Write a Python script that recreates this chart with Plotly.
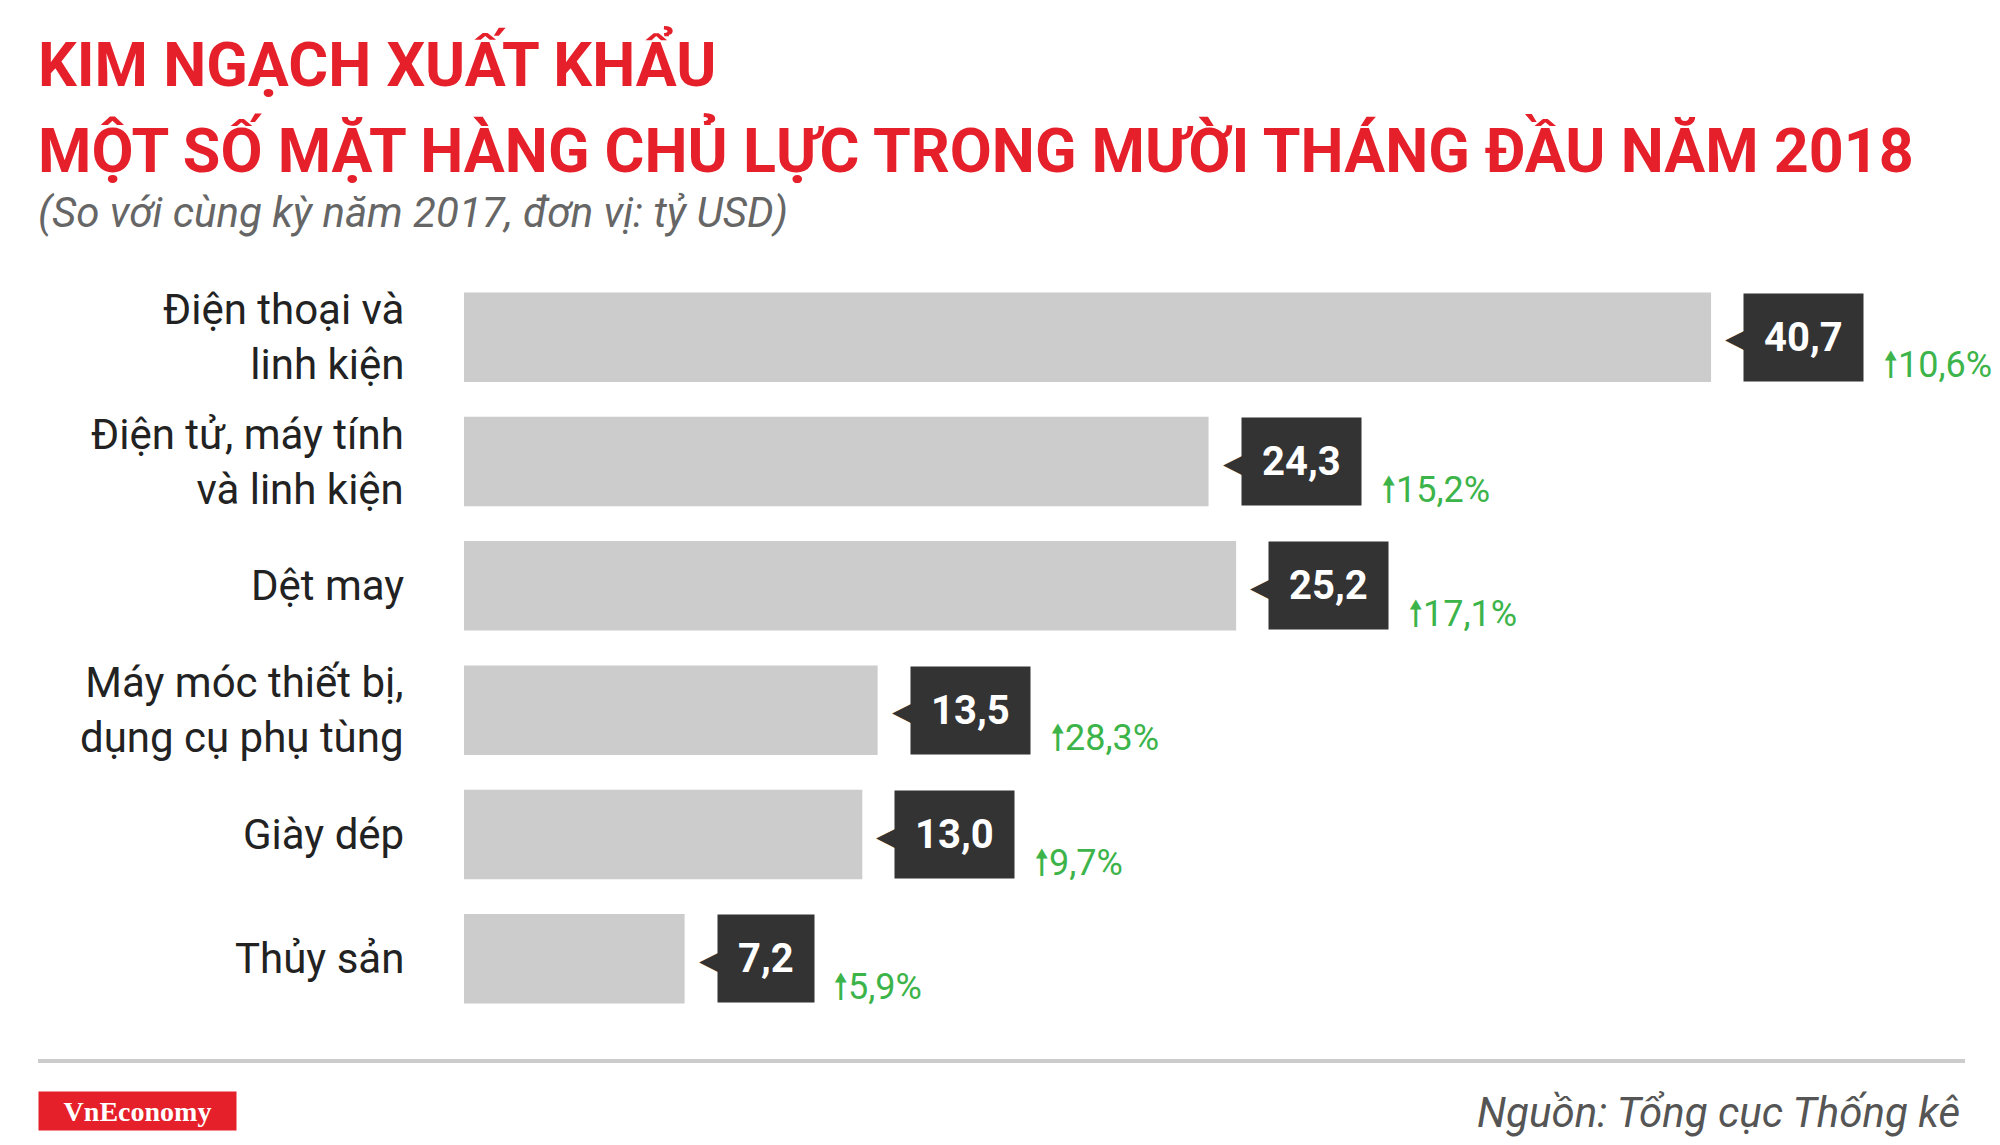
import plotly.graph_objects as go

categories = ["Điện thoại và<br>linh kiện", "Điện tử, máy tính<br>và linh kiện", "Dệt may",
              "Máy móc thiết bị,<br>dụng cụ phụ tùng", "Giày dép", "Thủy sản"]
values = [40.7, 24.3, 25.2, 13.5, 13.0, 7.2]
value_labels = ["40,7", "24,3", "25,2", "13,5", "13,0", "7,2"]
growth_labels = ["10,6%", "15,2%", "17,1%", "28,3%", "9,7%", "5,9%"]

RED = "#e5202a"
DARK = "#333333"
GREEN = "#3cb44a"
FONT = "Roboto"

# page has an 8px body margin, so work in window pixels minus 8
OFF = 8
W, H = 2000 - OFF, 1145 - OFF
L, R, T, B = 464 - OFF, 4, 275 - OFF, 124
pw, ph = W - L - R, H - T - B


def px(x):
    return (x - OFF - L) / pw


def py(y):
    return (H - B - (y - OFF)) / ph


fig = go.Figure()
fig.add_trace(go.Bar(
    x=values, y=categories, orientation="h",
    marker=dict(color="#cccccc", line=dict(width=0)),
    width=0.72, hoverinfo="skip",
))

for cat, v, vl, gl in zip(categories, values, value_labels, growth_labels):
    # pointer of the callout
    fig.add_annotation(x=v, y=cat, text="◀", showarrow=False, xanchor="left", xshift=12,
                       font=dict(family="DejaVu Sans", size=40, color=DARK))
    # value box
    fig.add_annotation(x=v, y=cat, text=f"<b>{vl}</b>", showarrow=False, xanchor="left", xshift=32,
                       bgcolor=DARK, borderpad=20, font=dict(family=FONT, size=40, color="white"))
    # growth
    fig.add_annotation(x=v, y=cat, text=f"<span style='font-family:DejaVu Sans'>🠕</span>{gl}",
                       showarrow=False, xanchor="left", xshift=32 + 42 + 24 * len(vl), yshift=-28,
                       font=dict(family=FONT, size=36, color=GREEN))

for cat in categories:
    fig.add_annotation(x=-0.038, xref="paper", y=cat, text=cat, showarrow=False, xanchor="right",
                       align="right", font=dict(family=FONT, size=42, color="#222222"))

fig.update_layout(
    width=W, height=H,
    margin=dict(l=L, r=R, t=T, b=B),
    plot_bgcolor="white", paper_bgcolor="white",
    showlegend=False,
    xaxis=dict(range=[0, 50], visible=False),
    yaxis=dict(autorange="reversed", visible=False),
)

fig.add_annotation(x=px(36), y=py(64), xref="paper", yref="paper", xanchor="left", yanchor="middle",
                   text="<b>KIM NGẠCH XUẤT KHẨU</b>", showarrow=False,
                   font=dict(family=FONT, size=61, color=RED))
fig.add_annotation(x=px(36), y=py(150), xref="paper", yref="paper", xanchor="left", yanchor="middle",
                   text="<b>MỘT SỐ MẶT HÀNG CHỦ LỰC TRONG MƯỜI THÁNG ĐẦU NĂM 2018</b>", showarrow=False,
                   font=dict(family=FONT, size=61, color=RED))
fig.add_annotation(x=px(36), y=py(213), xref="paper", yref="paper", xanchor="left", yanchor="middle",
                   text="<i>(So với cùng kỳ năm 2017, đơn vị: tỷ USD)</i>", showarrow=False,
                   font=dict(family=FONT, size=42, color="#666666"))
fig.add_shape(type="line", xref="paper", yref="paper", x0=px(38), x1=px(1965), y0=py(1061), y1=py(1061),
              line=dict(color="#cccccc", width=4))
fig.add_annotation(x=px(38), y=py(1111), xref="paper", yref="paper", xanchor="left", yanchor="middle",
                   text="<b>VnEconomy</b>", showarrow=False, bgcolor=RED, width=195, height=36,
                   font=dict(family="Liberation Serif", size=28, color="white"))
fig.add_annotation(x=px(1962), y=py(1112), xref="paper", yref="paper", xanchor="right", yanchor="middle",
                   text="<i>Nguồn: Tổng cục Thống kê</i>", showarrow=False,
                   font=dict(family=FONT, size=42, color="#555555"))

fig.write_html("out.html")
